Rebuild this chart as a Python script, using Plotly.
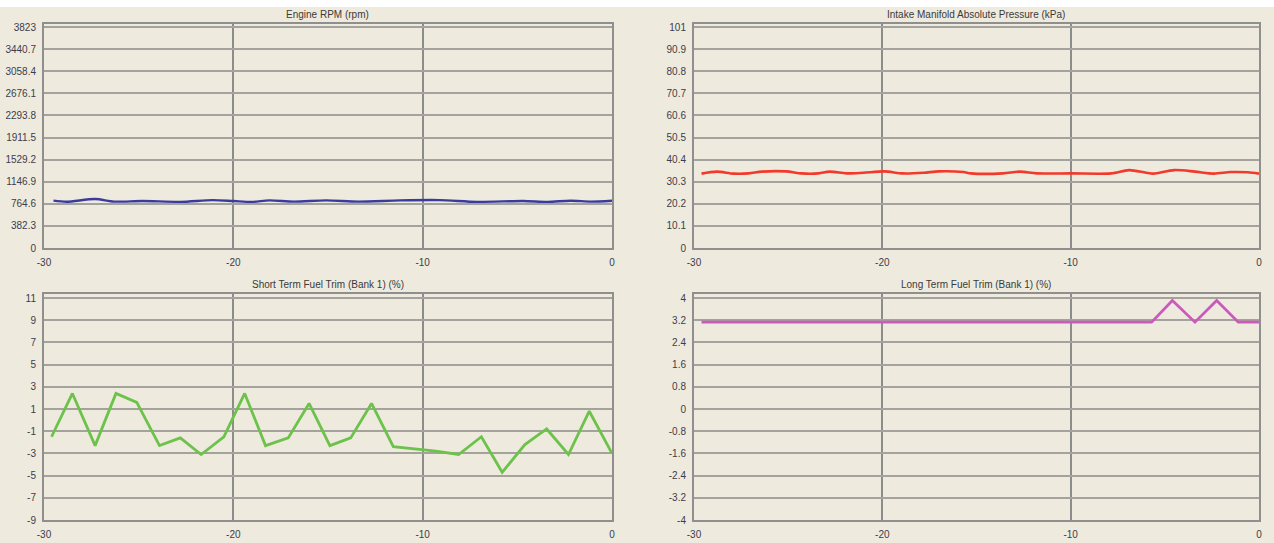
import plotly.graph_objects as go

# ---------------- data ----------------
rpm_t = [-29.5, -28.8, -27.3, -26.3, -24.8, -22.8, -21.1, -20.0, -19.0, -18.1, -16.8,
         -15.1, -13.4, -11.2, -9.1, -7.1, -4.7, -3.4, -2.2, -1.1, 0.0]
rpm_v = [819, 800, 848, 803, 813, 798, 828, 813, 798, 823, 803,
         823, 803, 823, 828, 798, 813, 798, 818, 803, 818]

map_t = [-29.6, -28.8, -27.9, -27.1, -26.4, -25.1, -24.3, -23.4, -22.8, -21.9, -21.0,
         -19.9, -18.9, -17.8, -17.0, -15.7, -15.3, -13.6, -12.7, -11.8, -10.0, -7.85,
         -6.9, -6.0, -5.6, -4.5, -3.4, -2.4, -1.5, -0.6, 0.0]
map_v = [34.0, 34.9, 34.0, 34.1, 34.9, 35.0, 34.1, 34.1, 34.9, 34.1, 34.4,
         35.0, 34.1, 34.4, 35.0, 34.7, 34.1, 34.1, 34.9, 34.1, 34.1, 34.1,
         35.6, 34.4, 34.0, 35.6, 34.9, 34.0, 34.7, 34.6, 34.0]

stft_t = [-29.6, -28.5, -27.3, -26.2, -25.1, -23.9, -22.8, -21.7, -20.5, -19.4, -18.3,
          -17.1, -16.0, -14.9, -13.8, -12.7, -11.55, -10.45, -9.3, -8.1, -6.9, -5.8,
          -4.6, -3.45, -2.3, -1.2, 0.0]
stft_v = [-1.5, 2.4, -2.3, 2.4, 1.6, -2.3, -1.6, -3.1, -1.5, 2.4, -2.3,
          -1.6, 1.5, -2.3, -1.6, 1.5, -2.4, -2.6, -2.8, -3.1, -1.5, -4.7,
          -2.2, -0.8, -3.1, 0.8, -3.0]

ltft_t = [-29.6, -5.7, -4.6, -3.4, -2.25, -1.1, 0.0]
ltft_v = [3.13, 3.13, 3.91, 3.13, 3.91, 3.13, 3.13]

x_ticks = [-30, -20, -10, 0]
rpm_ticks = [0, 382.3, 764.6, 1146.9, 1529.2, 1911.5, 2293.8, 2676.1, 3058.4, 3440.7, 3823]
map_ticks = [0, 10.1, 20.2, 30.3, 40.4, 50.5, 60.6, 70.7, 80.8, 90.9, 101]
stft_ticks = [-9, -7, -5, -3, -1, 1, 3, 5, 7, 9, 11]
ltft_ticks = [-4, -3.2, -2.4, -1.6, -0.8, 0, 0.8, 1.6, 2.4, 3.2, 4]

titles = ["Engine RPM (rpm)", "Intake Manifold Absolute Pressure (kPa)",
          "Short Term Fuel Trim (Bank 1) (%)", "Long Term Fuel Trim (Bank 1) (%)"]

# ---------------- layout geometry ----------------
W, H = 1274, 543
BG = "#EEEBDE"

def px_x(a, b):
    return [a / W, b / W]

def px_y(top, bottom):
    return [1 - bottom / H, 1 - top / H]

panels = [
    dict(t=rpm_t, v=rpm_v, ticks=rpm_ticks, color="#3b3b9e", width=2.4,
         dx=px_x(44, 612), dy=px_y(24, 248), pad=3, shape="spline"),
    dict(t=map_t, v=map_v, ticks=map_ticks, color="#f2392b", width=2.6,
         dx=px_x(694, 1259), dy=px_y(24, 248), pad=3, shape="spline"),
    dict(t=stft_t, v=stft_v, ticks=stft_ticks, color="#6cc24a", width=2.8,
         dx=px_x(44, 612), dy=px_y(294, 520), pad=4, shape="linear"),
    dict(t=ltft_t, v=ltft_v, ticks=ltft_ticks, color="#cc59bc", width=2.8,
         dx=px_x(694, 1259), dy=px_y(294, 520), pad=4, shape="linear"),
]

fig = go.Figure()
layout = dict(
    width=W, height=H,
    margin=dict(l=0, r=0, t=0, b=0, autoexpand=False),
    paper_bgcolor=BG, plot_bgcolor=BG,
    showlegend=False,
    font=dict(family="Liberation Sans, Arial, sans-serif", size=10, color="#3c3c4c"),
)

annotations = []
for i, p in enumerate(panels):
    n = "" if i == 0 else str(i + 1)
    xa, ya = "x" + n, "y" + n
    fig.add_trace(go.Scatter(x=p["t"], y=p["v"], mode="lines",
                             line=dict(color=p["color"], width=p["width"], shape=p["shape"],
                                       smoothing=0.8 if p["shape"] == "spline" else None),
                             xaxis=xa, yaxis=ya, hoverinfo="x+y"))
    lo, hi = p["ticks"][0], p["ticks"][-1]
    span = hi - lo
    plot_h = (p["dy"][1] - p["dy"][0]) * H
    top_extra = span * p["pad"] / (plot_h - p["pad"])
    layout["xaxis" + n] = dict(
        domain=p["dx"], anchor=ya, range=[-30, 0], automargin=False,
        tickvals=x_ticks, ticktext=[str(v) for v in x_ticks],
        showgrid=True, gridcolor="#8c8c8c", gridwidth=1.5,
        showline=True, linecolor="#8f8f8f", linewidth=2, mirror=True,
        zeroline=False, ticks="", ticklabelstandoff=4,
        tickfont=dict(size=10, color="#3c3c4c"), fixedrange=True,
    )
    layout["yaxis" + n] = dict(
        domain=p["dy"], anchor=xa, range=[lo, hi + top_extra], automargin=False,
        tickvals=p["ticks"], ticktext=[f"{v:g}" for v in p["ticks"]],
        showgrid=True, gridcolor="#a3a29c", gridwidth=2,
        showline=True, linecolor="#8f8f8f", linewidth=2, mirror=True,
        zeroline=False, ticks="", ticklabelstandoff=4,
        tickfont=dict(size=10, color="#3c3c4c"), fixedrange=True,
    )
    annotations.append(dict(
        text=titles[i], x=(p["dx"][0] + p["dx"][1]) / 2, y=p["dy"][1],
        xref="paper", yref="paper", xanchor="center", yanchor="bottom",
        yshift=2, showarrow=False,
        font=dict(size=10, color="#3a3a3a"),
    ))

layout["annotations"] = annotations
layout["shapes"] = [dict(type="rect", xref="paper", yref="paper",
                         x0=0, x1=1, y0=1 - 7 / H, y1=1,
                         fillcolor="white", line=dict(width=0), layer="below")]
fig.update_layout(**layout)
fig.write_html("out.html", config={"displayModeBar": False},
               post_script="document.body.style.margin='0';document.body.style.padding='0';")
